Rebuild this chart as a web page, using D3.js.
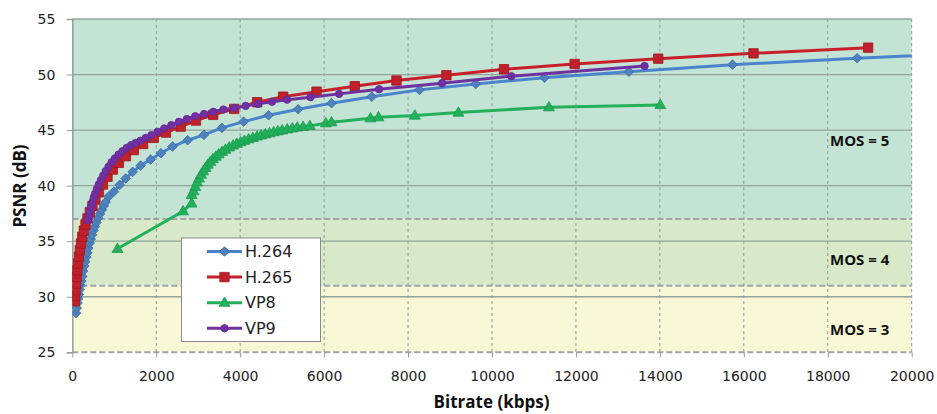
<!DOCTYPE html>
<html>
<head>
<meta charset="utf-8">
<script src="https://cdn.jsdelivr.net/npm/d3@7"></script>
<style>
  html, body { margin: 0; padding: 0; background: #fff; }
  svg { display: block; }
  .tick text { font-family: "DejaVu Sans", sans-serif; font-size: 14px; fill: #222; }
</style>
</head>
<body>
<svg id="chart" width="937" height="414"></svg>
<script>
// Axis ticks
const xTicks = [0, 2000, 4000, 6000, 8000, 10000, 12000, 14000, 16000, 18000, 20000];
const yTicks = [25, 30, 35, 40, 45, 50, 55];

// MOS quality bands (PSNR bounds) and their labels
const mosBounds = [25, 31, 37, 55];
const mosLabels = ["MOS = 3", "MOS = 4", "MOS = 5"];

// Series names in legend order
const seriesNames = ["H.264", "H.265", "VP8", "VP9"];

// Rate-distortion points: [bitrate kbps, PSNR dB]
const h264 = [
  [88, 28.53], [107, 28.98], [125, 29.43], [141, 29.82], [156, 30.21], [176, 30.63],
  [193, 31.02], [216, 31.41], [238, 31.83], [258, 32.31], [285, 32.76], [308, 33.15],
  [334, 33.57], [358, 33.96], [382, 34.38], [415, 34.83], [440, 35.19], [473, 35.58],
  [505, 35.96], [538, 36.32], [573, 36.68], [615, 37.08], [660, 37.46], [703, 37.82],
  [750, 38.18], [795, 38.52], [866, 39.02], [993, 39.47], [1129, 40.07], [1271, 40.64],
  [1438, 41.24], [1629, 41.81], [1867, 42.35], [2112, 42.92], [2390, 43.52], [2748, 44.09],
  [3136, 44.57], [3564, 45.20], [4081, 45.76], [4676, 46.34], [5381, 46.88], [6176, 47.42],
  [7136, 48.01], [8271, 48.62], [9612, 49.15], [11250, 49.72], [13262, 50.26], [15731, 50.89],
  [18700, 51.47], [22250, 52.05]
];
const h265 = [
  [59, 29.6], [68, 30.1], [78, 30.6], [90, 31.2], [103, 31.8], [118, 32.4], [136, 33.0],
  [157, 33.6], [180, 34.2], [207, 34.8], [238, 35.4], [274, 35.95], [315, 36.5], [362, 37.05],
  [417, 37.6], [479, 38.15], [551, 38.75], [634, 39.4], [729, 40.1], [839, 40.8], [965, 41.45],
  [1109, 42.05], [1276, 42.65], [1467, 43.2], [1687, 43.75], [1940, 44.3], [2231, 44.78],
  [2581, 45.31], [2945, 45.86], [3357, 46.37], [3857, 46.91], [4405, 47.51], [5024, 48.01],
  [5819, 48.46], [6731, 48.95], [7724, 49.46], [8914, 49.94], [10286, 50.48], [11969, 50.95],
  [13960, 51.43], [16231, 51.91], [18962, 52.42]
];
const vp8 = [
  [1077, 34.32], [2640, 37.7], [2843, 38.4], [2843, 39.17], [2890, 39.5], [2930, 39.9],
  [2975, 40.3], [3020, 40.65], [3070, 41.0], [3120, 41.3], [3175, 41.6], [3230, 41.9],
  [3290, 42.15], [3350, 42.4], [3420, 42.62], [3490, 42.83], [3570, 43.05], [3650, 43.25],
  [3740, 43.45], [3830, 43.62], [3920, 43.78], [4010, 43.92], [4100, 44.05], [4200, 44.18],
  [4300, 44.3], [4400, 44.43], [4500, 44.53], [4600, 44.63], [4700, 44.72], [4800, 44.82],
  [4900, 44.9], [5000, 44.98], [5120, 45.07], [5240, 45.16], [5360, 45.24], [5500, 45.3],
  [5660, 45.38], [6040, 45.62], [6176, 45.71], [7105, 46.07], [7295, 46.16], [8160, 46.31],
  [9200, 46.58], [11357, 47.06], [14010, 47.27]
];
const vp9 = [
  [370, 36.9], [395, 37.3], [420, 37.7], [448, 38.1], [478, 38.5], [510, 38.9], [545, 39.3],
  [585, 39.7], [630, 40.1], [680, 40.5], [735, 40.9], [795, 41.3], [862, 41.7], [935, 42.1],
  [1015, 42.45], [1102, 42.8], [1195, 43.1], [1295, 43.4], [1400, 43.65], [1510, 43.85],
  [1625, 44.05], [1750, 44.3], [1885, 44.55], [2030, 44.85], [2190, 45.15], [2360, 45.45],
  [2540, 45.75], [2730, 46.0], [2930, 46.25], [3140, 46.45], [3360, 46.65], [3600, 46.85],
  [3860, 47.0], [4130, 47.18], [4424, 47.36], [4760, 47.55], [5119, 47.74], [5676, 47.96],
  [6357, 48.26], [7310, 48.68], [8810, 49.22], [10460, 49.85], [13636, 50.77]
];

const svg = d3.select("#chart");
const plot = { left: 72.3, right: 911.7, top: 19, bottom: 352.3 };

const x = d3.scaleLinear().domain([0, 20000]).range([plot.left, plot.right]);
const y = d3.scaleLinear().domain([25, 55]).range([plot.bottom, plot.top]);

svg.append("defs").append("clipPath").attr("id", "plot-clip")
  .append("rect")
  .attr("x", plot.left).attr("y", plot.top)
  .attr("width", plot.right - plot.left).attr("height", plot.bottom - plot.top);

// Coloured MOS bands
const bandFill = ["#f8f7d6", "#d7e9c9", "#c3e3d4"];
const bands = mosLabels.map((label, i) => ({ label, lo: mosBounds[i], hi: mosBounds[i + 1], fill: bandFill[i] }));
svg.append("g").selectAll("rect").data(bands).join("rect")
  .attr("x", plot.left).attr("width", plot.right - plot.left)
  .attr("y", d => y(d.hi)).attr("height", d => y(d.lo) - y(d.hi))
  .attr("fill", d => d.fill);

// Vertical dashed gridlines
svg.append("g").selectAll("line").data(xTicks.filter(v => v > 0)).join("line")
  .attr("x1", d => x(d)).attr("x2", d => x(d))
  .attr("y1", plot.top).attr("y2", plot.bottom)
  .attr("stroke", "#8d9c96").attr("stroke-width", 1).attr("stroke-dasharray", "3,3");

// Horizontal solid gridlines
svg.append("g").selectAll("line").data(yTicks.filter(v => v > 25)).join("line")
  .attr("x1", plot.left).attr("x2", plot.right)
  .attr("y1", d => y(d)).attr("y2", d => y(d))
  .attr("stroke", "#90a49c").attr("stroke-width", 1.3);

// Dashed MOS band boundaries (including the base line)
svg.append("g").selectAll("line").data(mosBounds.slice(0, 3)).join("line")
  .attr("x1", plot.left).attr("x2", plot.right)
  .attr("y1", d => y(d)).attr("y2", d => y(d))
  .attr("stroke", "#a3a3a3").attr("stroke-width", 2).attr("stroke-dasharray", "6,3");

// MOS band labels
const mosLabelY = [329.5, 259.5, 141];
svg.append("g").selectAll("text").data(bands).join("text")
  .attr("x", 830).attr("y", (d, i) => mosLabelY[i])
  .attr("dy", "0.35em")
  .attr("font-family", "'Open Sans', sans-serif").attr("font-weight", 700)
  .attr("font-size", 15).attr("fill", "#111")
  .text(d => d.label);

// Axes
const yAxis = svg.append("g").attr("transform", `translate(${plot.left},0)`)
  .call(d3.axisLeft(y).tickValues(yTicks).tickSize(5.5).tickPadding(11.5).tickFormat(d3.format("d")));
yAxis.select(".domain").attr("stroke", "#9a9a9a").attr("stroke-width", 1.5);
yAxis.selectAll(".tick line").attr("stroke", "#9a9a9a");

const xAxis = svg.append("g").attr("transform", `translate(0,${plot.bottom})`)
  .call(d3.axisBottom(x).tickValues(xTicks).tickSize(5).tickPadding(14).tickFormat(d3.format("d")));
xAxis.select(".domain").remove();
xAxis.selectAll(".tick line").attr("stroke", "#9a9a9a");

// Axis titles
svg.append("text")
  .attr("x", 491.5).attr("y", 402).attr("dy", "0.35em")
  .attr("text-anchor", "middle")
  .attr("font-family", "'Open Sans', sans-serif").attr("font-weight", 700).attr("font-size", 17)
  .attr("fill", "#111").text("Bitrate (kbps)");
svg.append("text")
  .attr("transform", "translate(20,186) rotate(-90)")
  .attr("dy", "0.35em").attr("text-anchor", "middle")
  .attr("font-family", "'Open Sans', sans-serif").attr("font-weight", 700).attr("font-size", 17)
  .attr("fill", "#111").text("PSNR (dB)");

// Marker shapes
const markerPath = {
  diamond: r => `M0,${-r}L${r},0L0,${r}L${-r},0Z`,
  square: r => `M${-r},${-r}H${r}V${r}H${-r}Z`,
  triangle: r => `M0,${-r * 1.1}L${r * 1.05},${r * 0.7}L${-r * 1.05},${r * 0.7}Z`,
  circle: r => `M${r},0A${r},${r} 0 1,1 ${-r},0A${r},${r} 0 1,1 ${r},0Z`
};

const series = [
  { name: seriesNames[0], data: h264, line: "#4a84cc", fill: "#4f81bd", stroke: "#3a6aa6", shape: "diamond", r: 4.8 },
  { name: seriesNames[1], data: h265, line: "#c8202b", fill: "#c0202a", stroke: "#9c1a22", shape: "square", r: 4.7 },
  { name: seriesNames[2], data: vp8, line: "#22b05a", fill: "#22b05a", stroke: "#1c9a4e", shape: "triangle", r: 5.2 },
  { name: seriesNames[3], data: vp9, line: "#7030a0", fill: "#7030a0", stroke: "#66289a", shape: "circle", r: 3.7 }
];

const line = d3.line().x(d => x(d[0])).y(d => y(d[1]));
const plotG = svg.append("g").attr("clip-path", "url(#plot-clip)");

series.forEach(s => {
  const g = plotG.append("g");
  g.append("path").datum(s.data)
    .attr("d", line).attr("fill", "none")
    .attr("stroke", s.line).attr("stroke-width", 3).attr("stroke-linejoin", "round");
  g.selectAll("path.mk").data(s.data).join("path").attr("class", "mk")
    .attr("transform", d => `translate(${x(d[0])},${y(d[1])})`)
    .attr("d", markerPath[s.shape](s.r))
    .attr("fill", s.fill).attr("stroke", s.stroke).attr("stroke-width", 0.8);
});

// Legend
const legend = svg.append("g");
legend.append("rect")
  .attr("x", 181.5).attr("y", 238).attr("width", 139).attr("height", 103.5)
  .attr("fill", "#fff").attr("stroke", "#8a8a8a").attr("stroke-width", 1);
series.forEach((s, i) => {
  const ly = 251.5 + i * 25.6;
  legend.append("line")
    .attr("x1", 207).attr("x2", 242).attr("y1", ly).attr("y2", ly)
    .attr("stroke", s.line).attr("stroke-width", 3);
  legend.append("path")
    .attr("transform", `translate(224.5,${ly})`)
    .attr("d", markerPath[s.shape](s.r))
    .attr("fill", s.fill).attr("stroke", s.stroke).attr("stroke-width", 0.8);
  legend.append("text")
    .attr("x", 245).attr("y", ly).attr("dy", "0.36em")
    .attr("font-family", "'DejaVu Sans', sans-serif").attr("font-size", 16)
    .attr("fill", "#222").text(s.name);
});
</script>
</body>
</html>
